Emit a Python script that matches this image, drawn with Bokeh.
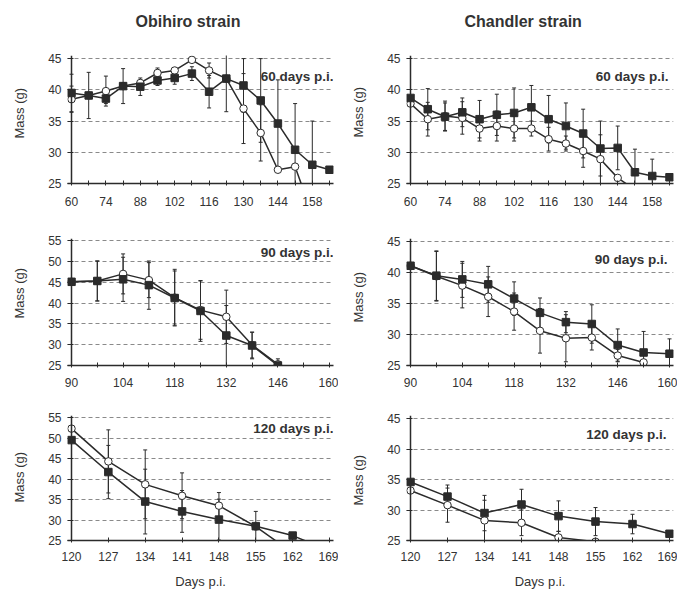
import numpy as np
from bokeh.plotting import figure
from bokeh.layouts import column, row
from bokeh.models import (ColumnDataSource, Range1d, FixedTicker, Whisker, TeeHead,
                          Label, Span, Title)
from bokeh.embed import file_html
from bokeh.resources import INLINE

nan = float("nan")

# ---------------- data ----------------
days_60 = [60, 67, 74, 81, 88, 95, 102, 109, 116, 123, 130, 137, 144, 151, 158, 165]
days_60_major = [60, 74, 88, 102, 116, 130, 144, 158]
days_90 = [90, 97, 104, 111, 118, 125, 132, 139, 146, 153, 160]
days_90_major = [90, 104, 118, 132, 146, 160]
days_120 = [120, 127, 134, 141, 148, 155, 162, 169]
days_120_major = [120, 127, 134, 141, 148, 155, 162, 169]

yticks_45 = [25, 30, 35, 40, 45]
yticks_55 = [25, 30, 35, 40, 45, 50, 55]

# Obihiro strain, 60 days p.i.
ob60_filled = [39.5, 39.1, 38.6, 40.6, 40.5, 41.5, 41.9, 42.6, 39.7, 41.8, 40.7, 38.3, 34.6, 30.4, 28.0, 27.2]
ob60_filled_sd = [3.0, 3.7, 0.8, 2.8, 1.4, 0.8, 1.0, 1.1, 2.6, 5.3, 4.3, 6.7, 7.0, 7.4, 7.0, nan]
ob60_open = [38.5, 39.1, 39.8, 40.6, 41.1, 42.7, 43.1, 44.8, 43.1, 41.8, 37.0, 33.1, 27.2, 27.7, 20.0, nan]
ob60_open_sd = [2.1, nan, 2.4, nan, nan, 0.8, nan, nan, 1.2, nan, 5.6, 4.5, nan, nan, nan, nan]

# Chandler strain, 60 days p.i.
ch60_filled = [38.7, 36.9, 35.7, 36.4, 35.3, 36.0, 36.3, 37.2, 35.3, 34.2, 33.0, 30.6, 30.7, 26.8, 26.2, 26.0]
ch60_filled_sd = [nan, 3.3, 2.2, 2.3, 3.0, 3.3, 4.0, 3.5, 3.8, 3.7, 3.9, 4.4, 3.5, 3.7, 2.7, nan]
ch60_open = [37.8, 35.3, 35.8, 35.5, 33.8, 34.2, 33.8, 33.8, 32.1, 31.4, 30.2, 28.9, 25.9, 24.0, nan, nan]
ch60_open_sd = [nan, 2.7, 2.4, 2.6, 2.0, 2.4, 2.0, 1.2, 1.9, 1.2, 2.6, 3.9, nan, nan, nan, nan]

# Obihiro strain, 90 days p.i.
ob90_filled = [45.1, 45.3, 45.7, 44.3, 41.2, 38.1, 32.2, 29.8, 25.0, nan, nan]
ob90_filled_sd = [nan, 4.8, 5.3, 5.8, 6.5, 7.3, 7.2, 3.2, nan, nan, nan]
ob90_open = [45.1, 45.3, 47.0, 45.5, 41.3, 38.3, 36.7, 29.9, 25.3, nan, nan]
ob90_open_sd = [nan, 4.8, 4.8, 4.2, 6.8, 7.0, 6.4, 3.1, 1.3, nan, nan]

# Chandler strain, 90 days p.i.
ch90_filled = [41.1, 39.5, 38.9, 38.1, 35.8, 33.5, 32.0, 31.7, 28.3, 27.1, 26.9]
ch90_filled_sd = [nan, 4.0, 2.9, 2.9, 2.7, 2.4, 1.7, 3.1, 2.6, 3.4, 2.4]
ch90_open = [41.1, 39.4, 37.9, 36.1, 33.7, 30.6, 29.4, 29.5, 26.6, 25.5, nan]
ch90_open_sd = [nan, 4.0, 3.6, 3.2, 3.0, 3.6, 3.8, 2.0, 1.0, nan, nan]

# Obihiro strain, 120 days p.i.
ob120_filled = [49.5, 41.7, 34.5, 32.1, 30.1, 28.5, 26.2, 22.5]
ob120_filled_sd = [nan, 6.5, 7.9, 5.1, 5.0, 3.6, nan, nan]
ob120_open = [52.3, 44.3, 38.7, 35.9, 33.5, 28.4, 22.0, nan]
ob120_open_sd = [nan, 7.7, 8.4, 5.6, 3.2, nan, nan, nan]

# Chandler strain, 120 days p.i.
ch120_filled = [34.6, 32.2, 29.5, 30.9, 29.0, 28.1, 27.7, 26.1]
ch120_filled_sd = [nan, 1.9, 2.9, 2.5, 2.5, 2.3, 1.6, nan]
ch120_open = [33.2, 30.8, 28.3, 27.9, 25.5, 24.8, nan, nan]
ch120_open_sd = [nan, 2.8, 3.3, 2.1, 1.0, nan, nan, nan]

# ---------------- style ----------------
INK = "#2b2b2b"
TXT = "#333333"
FONT = "Liberation Sans"


def spacer(px):
    # a white title used only to reserve space in a side panel
    return Title(text=".", text_font_size="8px", text_color="white", standoff=px)


def panel(days, xmajor, yticks, filled, filled_sd, opn, opn_sd, ann, geom,
          ann_dx, ann_dy, label_standoff, mass_offset, title=None, title_offset=0, xlabel=None):
    w, h, bl, br, bt, bb = geom
    fw = w - bl - br
    fh = h - bt - bb
    pad_px = 4.0
    px_per_day = (fw - 2 * pad_px) / (days[-1] - days[0])
    pad = pad_px / px_per_day
    p = figure(width=w, height=h, min_border_left=bl, min_border_right=br,
               min_border_top=bt, min_border_bottom=bb,
               x_range=Range1d(days[0] - pad, days[-1] + pad),
               y_range=Range1d(yticks[0], yticks[-1] + 0.5),
               output_backend="svg", toolbar_location=None)
    p.outline_line_color = None
    p.background_fill_color = "white"
    p.border_fill_color = "white"

    minor = [d for d in days if d not in xmajor]
    xa = p.xaxis[0]
    xa.ticker = FixedTicker(ticks=xmajor, minor_ticks=minor)
    xa.axis_line_color = INK
    xa.axis_line_width = 1.5
    xa.major_tick_in = 3
    xa.major_tick_out = 2
    xa.minor_tick_in = 3
    xa.minor_tick_out = 2
    xa.major_tick_line_color = INK
    xa.minor_tick_line_color = INK
    xa.major_label_standoff = label_standoff
    xa.major_label_text_font = FONT
    xa.major_label_text_font_size = "12px"
    xa.major_label_text_color = TXT
    if xlabel:
        xa.axis_label = xlabel
        xa.axis_label_text_font = FONT
        xa.axis_label_text_font_size = "13px"
        xa.axis_label_text_font_style = "normal"
        xa.axis_label_text_color = TXT
        xa.axis_label_standoff = 10

    ya = p.yaxis[0]
    ya.ticker = FixedTicker(ticks=yticks)
    ya.axis_line_color = None
    ya.major_tick_in = 6
    ya.major_tick_out = 0
    ya.minor_tick_line_color = None
    ya.major_tick_line_color = INK
    ya.major_label_standoff = 6
    ya.major_label_text_font = FONT
    ya.major_label_text_font_size = "12px"
    ya.major_label_text_color = TXT
    # the y axis line itself sits on the first day of the series
    p.add_layout(Span(location=days[0], dimension="height", line_color=INK, line_width=1.5))

    # "Mass (g)" as a left-side title, pushed outward by a spacer
    p.add_layout(spacer(12), "left")
    p.add_layout(Title(text="Mass (g)", align="left", offset=mass_offset, standoff=0,
                       text_font=FONT, text_font_size="13px", text_font_style="normal",
                       text_color=TXT), "left")

    p.xgrid.visible = False
    p.ygrid.ticker = FixedTicker(ticks=yticks[1:])
    p.ygrid.grid_line_color = "#8a8a8a"
    p.ygrid.grid_line_dash = "4 3"
    p.ygrid.grid_line_width = 1

    f = np.array(filled, dtype=float)
    fe = np.array(filled_sd, dtype=float)
    o = np.array(opn, dtype=float)
    oe = np.array(opn_sd, dtype=float)
    src = ColumnDataSource(dict(day=days, f=f, fu=f + fe, fl=f - fe,
                                o=o, ou=o + oe, ol=o - oe))

    for up, lo in (("ou", "ol"), ("fu", "fl")):
        wk = Whisker(base="day", upper=up, lower=lo, source=src,
                     line_color=INK, line_width=1,
                     upper_head=TeeHead(size=4, line_color=INK, line_width=1),
                     lower_head=TeeHead(size=4, line_color=INK, line_width=1))
        p.add_layout(wk)

    p.line("day", "o", source=src, line_color=INK, line_width=1.5)
    p.line("day", "f", source=src, line_color=INK, line_width=1.5)
    p.scatter("day", "o", source=src, marker="circle", size=7.5,
              fill_color="white", line_color=INK, line_width=1)
    p.scatter("day", "f", source=src, marker="square", size=7.5,
              fill_color=INK, line_color=INK, line_width=1)

    p.add_layout(Label(x=fw + ann_dx, y=fh - ann_dy, x_units="screen", y_units="screen",
                       text=ann, text_align="right", text_baseline="middle",
                       text_font=FONT, text_font_style="bold",
                       text_font_size="13.5px", text_color=TXT))
    if title:
        p.add_layout(spacer(19), "above")
        p.add_layout(Title(text=title, align="left", offset=title_offset, standoff=0,
                           text_font=FONT, text_font_size="16px",
                           text_font_style="bold", text_color=TXT), "above")
    return p


LW, LBL, LBR = 338, 67, 5
RW, RBL, RBR = 339, 68, 4

p1 = panel(days_60, days_60_major, yticks_45, ob60_filled, ob60_filled_sd, ob60_open, ob60_open_sd,
           "60 days p.i.", (LW, 214, LBL, LBR, 55, 31), 0, 20.5, 11, 45,
           title="Obihiro strain", title_offset=68)
p2 = panel(days_60, days_60_major, yticks_45, ch60_filled, ch60_filled_sd, ch60_open, ch60_open_sd,
           "60 days p.i.", (RW, 214, RBL, RBR, 55, 31), -5, 20.7, 11, 46,
           title="Chandler strain", title_offset=58)
p3 = panel(days_90, days_90_major, yticks_55, ob90_filled, ob90_filled_sd, ob90_open, ob90_open_sd,
           "90 days p.i.", (LW, 180, LBL, LBR, 23, 29), 0, 15, 10, 47)
p4 = panel(days_90, days_90_major, yticks_45, ch90_filled, ch90_filled_sd, ch90_open, ch90_open_sd,
           "90 days p.i.", (RW, 180, RBL, RBR, 24, 29), -6, 20.7, 10, 43)
p5 = panel(days_120, days_120_major, yticks_55, ob120_filled, ob120_filled_sd, ob120_open, ob120_open_sd,
           "120 days p.i.", (LW, 197, LBL, LBR, 21, 49), 0, 15, 9, 38, xlabel="Days p.i.")
p6 = panel(days_120, days_120_major, yticks_45, ch120_filled, ch120_filled_sd, ch120_open, ch120_open_sd,
           "120 days p.i.", (RW, 197, RBL, RBR, 20, 50), -7, 21, 9, 35, xlabel="Days p.i.")

layout = column(row(p1, p2, spacing=0), row(p3, p4, spacing=0), row(p5, p6, spacing=0), spacing=0)

open("out.html", "w").write(file_html(layout, INLINE))
